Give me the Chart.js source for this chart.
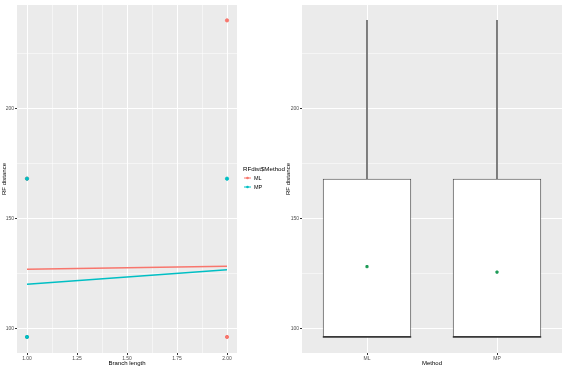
<!DOCTYPE html>
<html>
<head>
<meta charset="utf-8">
<script src="https://cdn.jsdelivr.net/npm/chart.js@4.4.1/dist/chart.umd.min.js"></script>
<style>
  body { margin: 0; background: #fff; }
  #wrap { position: relative; width: 567px; height: 367px; }
  #left { position: absolute; left: 0; top: 0; }
  #right { position: absolute; left: 284px; top: 0; }
</style>
</head>
<body>
<div id="wrap">
  <canvas id="left" width="300" height="367"></canvas>
  <canvas id="right" width="283" height="367"></canvas>
</div>
<script>
// data
var methods = ['ML', 'MP'];
var branchTicks = [1.00, 1.125, 1.25, 1.375, 1.50, 1.625, 1.75, 1.875, 2.00];
var rfTicks = [100, 125, 150, 175, 200, 225];
var rfLabelTicks = [100, 150, 200];

var mlBranch = [1, 1, 2, 2];
var mlRF = [96, 168, 96, 240];
var mpBranch = [1, 1, 2];
var mpRF = [96, 168, 168];

var mlFit = [126.8, 128.2];   // fitted line at branch 1 and 2
var mpFit = [120.0, 126.6];
var fitBranch = [1, 2];

// boxplot summaries per method
var boxQ1 = [96, 96];
var boxMedian = [96, 96];
var boxQ3 = [168, 168];
var boxMax = [240, 240];
var boxMean = [128, 125.5];

var red = '#F8766D', teal = '#00BFC4';
var font = 'Liberation Sans, Arial, sans-serif';

var panelBg = {
  id: 'panelBg',
  beforeDraw: function (chart) {
    var a = chart.chartArea, ctx = chart.ctx;
    ctx.save();
    ctx.fillStyle = '#EBEBEB';
    ctx.fillRect(a.left, a.top, a.right - a.left, a.bottom - a.top);
    ctx.restore();
  }
};

// ggplot-like legend to the right of the panel
var sideLegend = {
  id: 'sideLegend',
  afterDraw: function (chart) {
    var a = chart.chartArea, ctx = chart.ctx;
    var x = a.right + 6, mid = (a.top + a.bottom) / 2;
    ctx.save();
    ctx.textBaseline = 'middle';
    ctx.fillStyle = '#000';
    ctx.font = '6.2px ' + font;
    ctx.fillText('RFdist$Method', x, mid - 10);
    ctx.font = '5.5px ' + font;
    chart.data.datasets.slice(0, 2).forEach(function (ds, i) {
      var y = mid - 1 + i * 9;
      ctx.strokeStyle = ds.borderColor;
      ctx.lineWidth = 1;
      ctx.beginPath();
      ctx.moveTo(x + 1, y);
      ctx.lineTo(x + 8, y);
      ctx.stroke();
      ctx.fillStyle = ds.borderColor;
      ctx.beginPath();
      ctx.arc(x + 4.5, y, 1.3, 0, Math.PI * 2);
      ctx.fill();
      ctx.fillStyle = '#000';
      ctx.fillText(ds.label, x + 11, y);
    });
    ctx.restore();
  }
};

// median line across each box, placed with the chart's own scales
var medianLines = {
  id: 'medianLines',
  afterDatasetsDraw: function (chart) {
    var meta = chart.getDatasetMeta(1), y = chart.scales.y, ctx = chart.ctx;
    ctx.save();
    ctx.strokeStyle = '#333333';
    ctx.lineWidth = 1.6;
    meta.data.forEach(function (bar, i) {
      var py = y.getPixelForValue(boxMedian[i]);
      ctx.beginPath();
      ctx.moveTo(bar.x - bar.width / 2, py);
      ctx.lineTo(bar.x + bar.width / 2, py);
      ctx.stroke();
    });
    ctx.restore();
  }
};

function pts(xs, ys) {
  return xs.map(function (x, i) { return { x: x, y: ys[i] }; });
}

function isMajor(v, labels) {
  return labels.some(function (l) { return Math.abs(l - v) < 1e-6; });
}

function quarter(v) {
  return Math.abs(v * 4 - Math.round(v * 4)) < 1e-6;
}

var yScale = function (width) {
  return {
    type: 'linear',
    min: 88.7,
    max: 247,
    afterBuildTicks: function (s) { s.ticks = rfTicks.map(function (v) { return { value: v }; }); },
    afterFit: function (s) { s.width = width; },
    border: { display: false },
    grid: {
      color: '#ffffff',
      lineWidth: function (c) { return isMajor(c.tick.value, rfLabelTicks) ? 1 : 0.5; },
      tickColor: function (c) { return isMajor(c.tick.value, rfLabelTicks) ? '#333333' : 'rgba(0,0,0,0)'; },
      tickLength: 2
    },
    ticks: {
      padding: 1,
      color: '#4D4D4D',
      font: { family: font, size: 5 },
      callback: function (v) { return isMajor(v, rfLabelTicks) ? String(v) : ''; }
    },
    title: { display: true, text: 'RF distance', color: '#000', font: { family: font, size: 6 }, padding: 1 }
  };
};

// left: scatter + fitted lines (higher order is drawn underneath)
new Chart(document.getElementById('left'), {
  type: 'scatter',
  data: {
    datasets: [
      { label: 'ML', type: 'line', data: pts(fitBranch, mlFit), borderColor: red, backgroundColor: red, borderWidth: 1.5, pointRadius: 0, order: 2 },
      { label: 'MP', type: 'line', data: pts(fitBranch, mpFit), borderColor: teal, backgroundColor: teal, borderWidth: 1.5, pointRadius: 0, order: 1 },
      { label: 'ML points', data: pts(mlBranch, mlRF), backgroundColor: red, borderColor: red, pointRadius: 1.6, order: 4 },
      { label: 'MP points', data: pts(mpBranch, mpRF), backgroundColor: teal, borderColor: teal, pointRadius: 1.6, order: 3 }
    ]
  },
  options: {
    responsive: false,
    animation: false,
    layout: { padding: { top: 3, right: 63 } },
    plugins: {
      tooltip: { enabled: false },
      legend: { display: false }
    },
    scales: {
      x: {
        type: 'linear',
        min: 0.95,
        max: 2.05,
        afterBuildTicks: function (s) { s.ticks = branchTicks.map(function (v) { return { value: v }; }); },
        afterFit: function (s) { s.height = 14; },
        border: { display: false },
        grid: {
          color: '#ffffff',
          lineWidth: function (c) { return quarter(c.tick.value) ? 1 : 0.5; },
          tickColor: function (c) { return quarter(c.tick.value) ? '#333333' : 'rgba(0,0,0,0)'; },
          tickLength: 2
        },
        ticks: {
          padding: 1,
          maxRotation: 0,
          color: '#4D4D4D',
          font: { family: font, size: 5 },
          callback: function (v) { return quarter(v) ? v.toFixed(2) : ''; }
        },
        title: { display: true, text: 'Branch length', color: '#000', font: { family: font, size: 6 }, padding: 0 }
      },
      y: yScale(17)
    }
  },
  plugins: [panelBg, sideLegend]
});

// right: boxplot per method
new Chart(document.getElementById('right'), {
  type: 'bar',
  data: {
    labels: methods,
    datasets: [
      { label: 'whisker', data: methods.map(function (m, i) { return [boxQ3[i], boxMax[i]]; }), backgroundColor: '#666666', barThickness: 1, grouped: false, order: 3 },
      { label: 'box', data: methods.map(function (m, i) { return [boxQ1[i], boxQ3[i]]; }), backgroundColor: '#ffffff', borderColor: '#4D4D4D', borderWidth: 1, borderSkipped: false, grouped: false, categoryPercentage: 1, barPercentage: 0.68, order: 2 },
      { label: 'mean', type: 'line', data: boxMean, showLine: false, pointStyle: 'rect', pointRadius: 1.5, backgroundColor: '#1E9B57', borderColor: '#1E9B57', order: 0 }
    ]
  },
  options: {
    responsive: false,
    animation: false,
    layout: { padding: { top: 2, right: 1 } },
    plugins: { legend: { display: false }, tooltip: { enabled: false } },
    scales: {
      x: {
        afterFit: function (s) { s.height = 14; },
        border: { display: false },
        grid: { color: '#ffffff', lineWidth: 1, offset: false, tickColor: '#333333', tickLength: 2 },
        ticks: { padding: 1, color: '#4D4D4D', font: { family: font, size: 5 } },
        title: { display: true, text: 'Method', color: '#000', font: { family: font, size: 6 }, padding: 0 }
      },
      y: yScale(18)
    }
  },
  plugins: [panelBg, medianLines]
});
</script>
</body>
</html>
